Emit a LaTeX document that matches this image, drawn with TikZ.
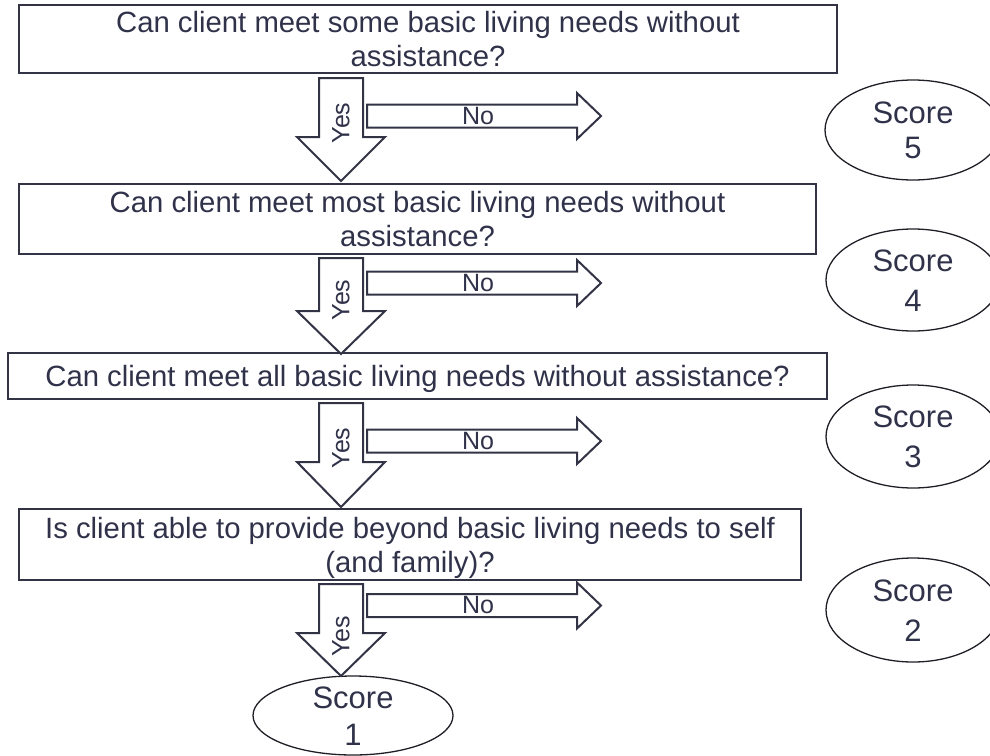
\documentclass[tikz,border=0pt]{standalone}
\usepackage{fontspec}
\setmainfont{Liberation Sans}
\usetikzlibrary{shapes.geometric}
\definecolor{ink}{RGB}{48,50,74}
\definecolor{frame}{RGB}{50,52,70}
\definecolor{oval}{RGB}{30,30,38}
% down block arrow: centre x, top, head base, tip
\newcommand{\YesArrow}[4]{%
  \draw[blockarrow] (#1-22,#2) -- (#1+22,#2) -- (#1+22,#3) -- (#1+44,#3)
    -- (#1,#4) -- (#1-44,#3) -- (#1-22,#3) -- cycle;}
% right block arrow: centre line y
\newcommand{\NoArrow}[1]{%
  \draw[blockarrow] (367,#1-11.5) -- (577,#1-11.5) -- (577,#1-23) -- (601,#1)
    -- (577,#1+23) -- (577,#1+11.5) -- (367,#1+11.5) -- cycle;}
\begin{document}
\begin{tikzpicture}[x=1pt,y=-1pt,
  question/.style={draw=frame, line width=2pt, rectangle, inner sep=0pt,
    align=center, text=ink, font=\fontsize{29.3}{34}\selectfont},
  outcome/.style={draw=oval, line width=1.3pt, ellipse, inner sep=-20pt,
    align=center, text=ink},
  blockarrow/.style={draw=frame, line width=2pt, line join=miter, fill=white},
  answer/.style={text=ink, inner sep=0pt, font=\fontsize{25}{28}\selectfont}]
\useasboundingbox (0,0) rectangle (990,755);
\clip (0,0) rectangle (990,755);

% questions
\node[question, minimum width=818pt, minimum height=68pt] (q1) at (428,39)
  {\rule{0pt}{21pt}\smash{Can client meet some basic living needs without}\\\smash{assistance?}};
\node[question, minimum width=797pt, minimum height=70pt] (q2) at (417.5,219)
  {\rule{0pt}{21pt}\smash{Can client meet most basic living needs without}\\\smash{assistance?}};
\node[question, minimum width=819pt, minimum height=46pt] (q3) at (417.5,376)
  {\rule{0pt}{21pt}\smash{Can client meet all basic living needs without assistance?}};
\node[question, minimum width=782pt, minimum height=71pt] (q4) at (410,544.5)
  {\rule{0pt}{21pt}\smash{Is client able to provide beyond basic living needs to self}\\\smash{(and family)?}};

% scores
\node[outcome, minimum width=176pt, minimum height=100pt,
  font=\fontsize{31}{35}\selectfont] (s5) at (913,130)
  {\rule{0pt}{22pt}\smash{Score}\\\smash{5}};
\node[outcome, minimum width=174pt, minimum height=102pt,
  font=\fontsize{31}{40}\selectfont] (s4) at (913,280)
  {\rule{0pt}{22pt}\smash{Score}\\\smash{4}};
\node[outcome, minimum width=174pt, minimum height=103pt,
  font=\fontsize{31}{40}\selectfont] (s3) at (913,436.5)
  {\rule{0pt}{22pt}\smash{Score}\\\smash{3}};
\node[outcome, minimum width=174pt, minimum height=104pt,
  font=\fontsize{31}{40}\selectfont] (s2) at (913,610)
  {\rule{0pt}{22pt}\smash{Score}\\\smash{2}};
\node[outcome, minimum width=200pt, minimum height=79pt,
  font=\fontsize{31}{37}\selectfont] (s1) at (353,715.5)
  {\rule{0pt}{22pt}\smash{Score}\\\smash{1}};

% yes branches
\YesArrow{341}{78}{137}{181}
\YesArrow{341}{258}{311}{354}
\YesArrow{341}{403}{462}{507}
\YesArrow{341}{584}{633}{676}
\node[answer, rotate=90] (y1) at (341,123) {Yes};
\node[answer, rotate=90] (y2) at (341,300) {Yes};
\node[answer, rotate=90] (y3) at (341,448) {Yes};
\node[answer, rotate=90] (y4) at (341,636) {Yes};

% no branches
\NoArrow{116}
\NoArrow{283}
\NoArrow{441}
\NoArrow{605.5}
\node[answer] (n1) at (478,116) {No};
\node[answer] (n2) at (478,283) {No};
\node[answer] (n3) at (478,441) {No};
\node[answer] (n4) at (478,605.5) {No};
\end{tikzpicture}
\end{document}
